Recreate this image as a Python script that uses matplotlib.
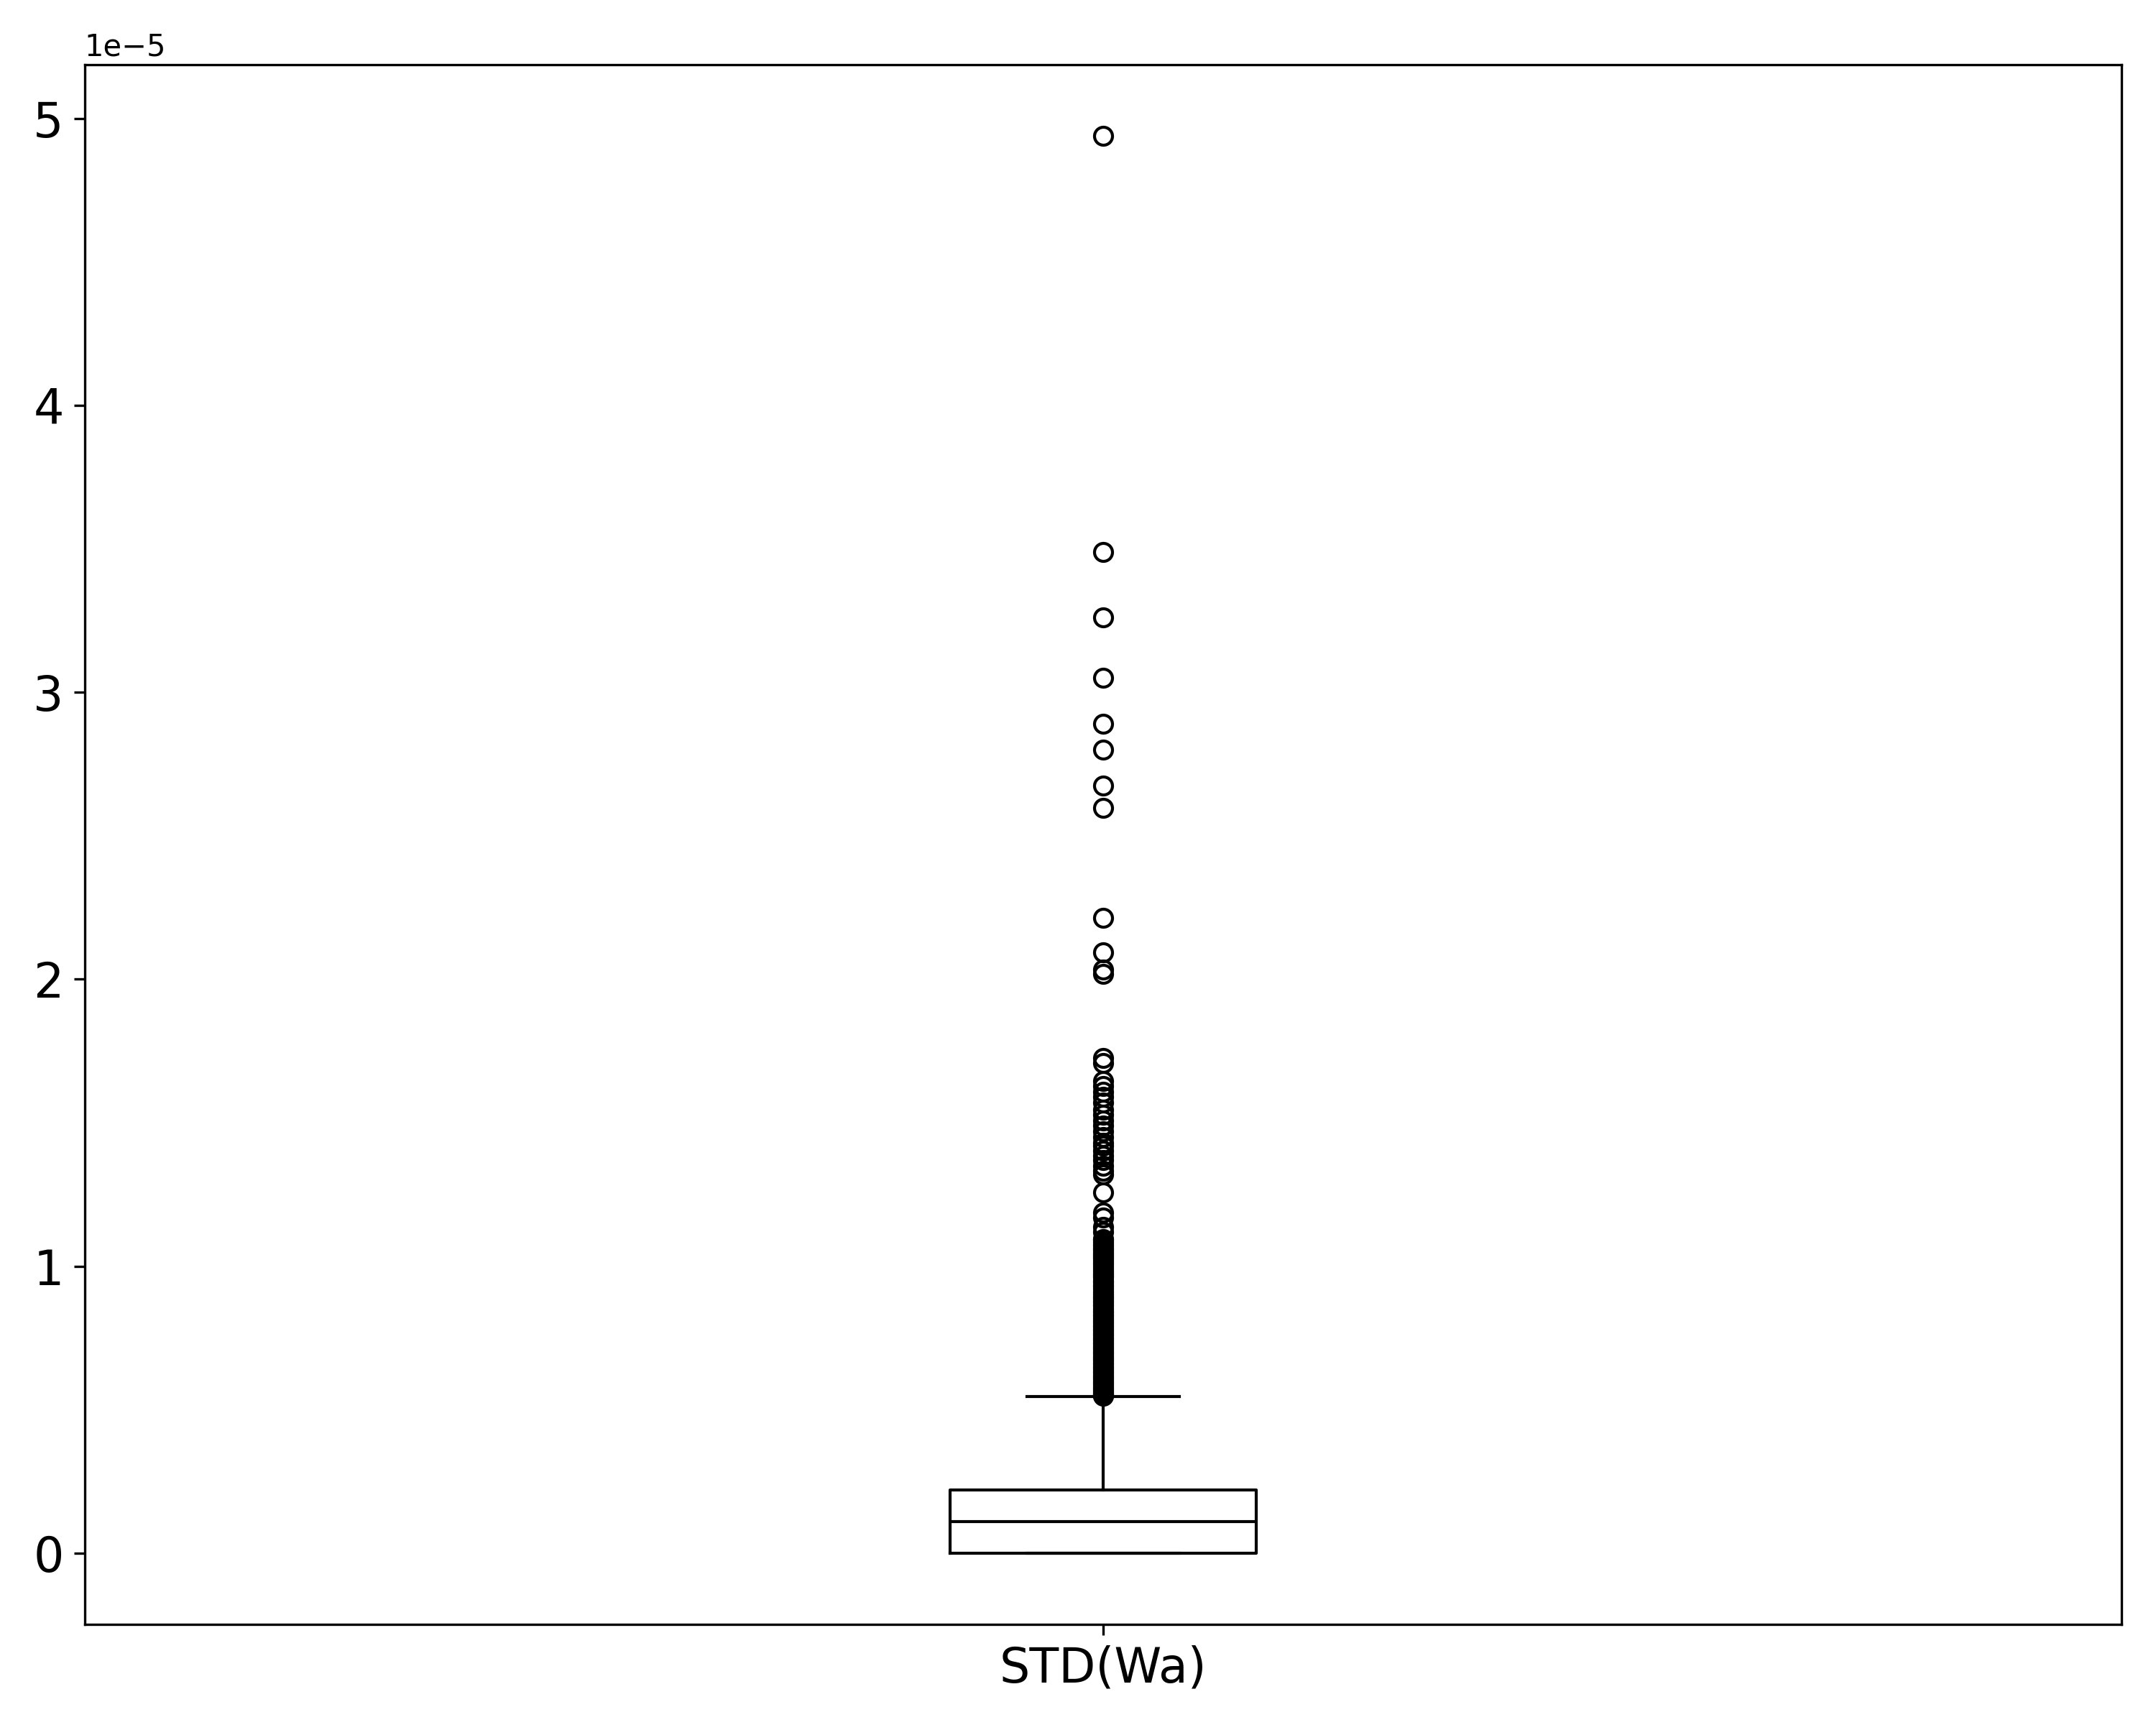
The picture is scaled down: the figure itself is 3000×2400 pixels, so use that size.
import matplotlib
matplotlib.use("Agg")
import matplotlib.pyplot as plt
import numpy as np

# box statistics (values in units of 1e-5)
labels = ["STD(Wa)"]
q1 = [0.0]
med = [0.110]
q3 = [0.2205]
whislo = [0.0]
whishi = [0.5465]
fliers = [
    4.94, 3.49, 3.26, 3.05, 2.89, 2.80, 2.675, 2.598, 2.215, 2.095, 2.033, 2.018,
    1.725, 1.708, 1.645, 1.629, 1.608, 1.591, 1.570, 1.545, 1.528, 1.508, 1.49,
    1.47, 1.45, 1.43, 1.42, 1.403, 1.386, 1.37, 1.349, 1.332, 1.32, 1.257,
    1.186, 1.169, 1.136, 1.119,
    1.095, 1.085, 1.072, 1.064, 1.055, 1.046, 1.038, 1.027, 1.019, 1.008, 0.999,
    0.985, 0.972, 0.961, 0.950, 0.935, 0.922, 0.912, 0.897, 0.886, 0.873, 0.862,
    0.851, 0.838, 0.826, 0.812, 0.801, 0.789, 0.776, 0.764, 0.752, 0.741, 0.729,
    0.716, 0.705, 0.693, 0.681, 0.670, 0.658, 0.646, 0.634, 0.622, 0.611, 0.599,
    0.588, 0.576, 0.565, 0.557, 0.551,
    1.091, 1.078, 1.059, 1.042, 1.031, 1.013, 0.992, 0.978, 0.966, 0.944,
    0.928, 0.905, 0.891, 0.879, 0.867, 0.844, 0.832, 0.818, 0.806, 0.794,
    0.782, 0.770, 0.758, 0.746, 0.735, 0.722, 0.711, 0.699, 0.687, 0.675,
    0.664, 0.652, 0.640, 0.628, 0.616, 0.605, 0.593, 0.582, 0.571, 0.561,
    0.554, 0.549,
]
scale = 1e-5

stats = [{
    "label": labels[0],
    "q1": q1[0] * scale,
    "med": med[0] * scale,
    "q3": q3[0] * scale,
    "whislo": whislo[0] * scale,
    "whishi": whishi[0] * scale,
    "fliers": np.array(fliers) * scale,
}]

fig, ax = plt.subplots(figsize=(10, 8))
ax.bxp(stats, medianprops={"color": "black"})
ax.tick_params(axis="both", labelsize=16)
fig.subplots_adjust(left=0.0393, right=0.984, bottom=0.0585, top=0.9625)
fig.savefig("out.png", dpi=300)
